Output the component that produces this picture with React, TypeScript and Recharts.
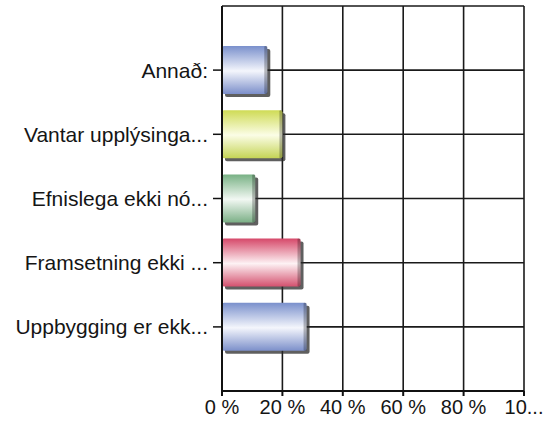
import React from 'react';
import { BarChart, Bar, XAxis, YAxis, CartesianGrid } from 'recharts';

const categories = [
  'Annað:',
  'Vantar upplýsinga...',
  'Efnislega ekki nó...',
  'Framsetning ekki ...',
  'Uppbygging er ekk...',
];
const shares = [15, 20, 11, 26, 28];
const xTicks = [0, 20, 40, 60, 80, 100];

// top, middle, bottom colours of each cylinder
const barColors = [
  ['#7a90cc', '#f4f6fc', '#7c8fca'],
  ['#cfdb55', '#fbfde6', '#c5d456'],
  ['#78b184', '#f2f8f3', '#7cb087'],
  ['#d6496a', '#fdf2f4', '#d4506e'],
  ['#7a90cc', '#f4f6fc', '#7c8fca'],
];

const data = categories.map((name, i) => ({ name, value: shares[i], idx: i }));

const font = "'Liberation Sans', Arial, sans-serif";

const CylinderBar = (props: any) => {
  const { x, y, width, height, payload } = props;
  if (!width || width <= 0) return null;
  const id = `grad-${payload.idx}`;
  return (
    <g>
      <rect x={x + 3} y={y + 3} width={width} height={height} fill="#2a2a2a" opacity={0.75} rx={2} />
      <rect x={x} y={y} width={width} height={height} fill={`url(#${id})`} rx={2} />
      <rect x={x + width - 3} y={y} width={3} height={height} fill="#000" opacity={0.25} rx={1} />
    </g>
  );
};

const App: React.FC = () => {
  return (
    <div style={{ position: 'absolute', left: 0, top: 0, background: '#fff' }}>
      <BarChart
        width={549}
        height={421}
        data={data}
        layout="vertical"
        margin={{ top: 6, right: 25, bottom: 0, left: 0 }}
        barSize={48}
      >
        <defs>
          {barColors.map((c, i) => (
            <linearGradient key={i} id={`grad-${i}`} x1="0" y1="0" x2="0" y2="1">
              <stop offset="0%" stopColor={c[0]} />
              <stop offset="52%" stopColor={c[1]} />
              <stop offset="100%" stopColor={c[2]} />
            </linearGradient>
          ))}
        </defs>
        <CartesianGrid stroke="#1a1a1a" strokeWidth={1.6} />
        <XAxis
          type="number"
          domain={[0, 100]}
          ticks={xTicks}
          interval={0}
          height={30}
          tickSize={5}
          tickMargin={4}
          axisLine={{ stroke: '#111', strokeWidth: 2 }}
          tickLine={{ stroke: '#111', strokeWidth: 2 }}
          tick={{ fill: '#151515', fontSize: 20, fontFamily: font }}
          tickFormatter={(v: number) => (v === 100 ? '10...' : `${v} %`)}
        />
        <XAxis
          xAxisId="top"
          orientation="top"
          type="number"
          domain={[0, 100]}
          height={0}
          tick={false}
          tickLine={false}
          axisLine={{ stroke: '#111', strokeWidth: 2 }}
        />
        <YAxis
          type="category"
          dataKey="name"
          width={222}
          tickSize={9}
          tickMargin={5}
          padding={{ top: 32, bottom: 32 }}
          axisLine={{ stroke: '#111', strokeWidth: 2 }}
          tickLine={{ stroke: '#111', strokeWidth: 1.5 }}
          tick={{ fill: '#151515', fontSize: 21, fontFamily: font }}
        />
        <Bar dataKey="value" shape={CylinderBar} isAnimationActive={false} />
      </BarChart>
    </div>
  );
};

export default App;
